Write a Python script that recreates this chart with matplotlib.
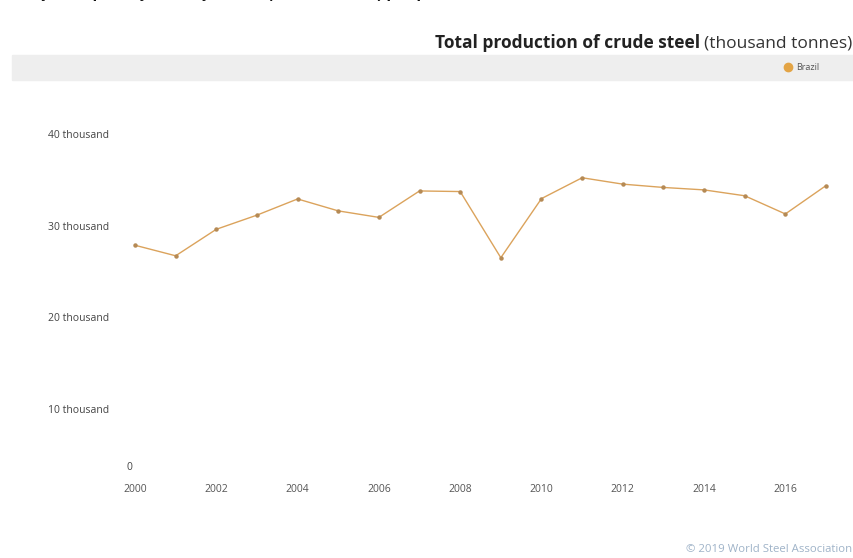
import matplotlib.pyplot as plt
from matplotlib.patches import Rectangle
from matplotlib.lines import Line2D

# 数据
years = list(range(2000, 2018))
brazil = [27865, 26717, 29604, 31147, 32909, 31610, 30901, 33782, 33716,
          26506, 32948, 35220, 34524, 34163, 33897, 33256, 31275, 34365]
x_ticks = list(range(2000, 2017, 2))
y_ticks = [10000, 20000, 30000, 40000]
y_labels = ["10 thousand", "20 thousand", "30 thousand", "40 thousand"]

plt.rcParams['font.family'] = ['Open Sans', 'DejaVu Sans']

fig = plt.figure(figsize=(8.54, 5.58), dpi=100)
W, H = 854, 558

# 被裁掉的标题 (只剩下半部分)
fig.text(-2 / W, 1 + 2 / H, "Evolução da produção de aço bruto (mil toneladas) por país",
         fontsize=11, fontweight='bold', ha='left', va='baseline', color='#111111')

# 副标题
t1 = fig.text(852 / W, 1 - 43 / H, "(thousand tonnes)", fontsize=12.5,
              ha='right', va='center', color='#333333')
fig.canvas.draw()
bb = t1.get_window_extent()
fig.text(bb.x0 / W - 4 / W, 1 - 43 / H, "Total production of crude steel", fontsize=12.5,
         fontweight='bold', ha='right', va='center', color='#222222')

# 图例条
fig.patches.append(Rectangle((12 / W, 1 - 80 / H), (W - 12) / W, 25 / H,
                             transform=fig.transFigure, color='#eeeeee', zorder=0))
fig.lines.append(Line2D([788 / W], [1 - 67 / H], marker='o', markersize=6,
                        color='#e3a445', transform=fig.transFigure))
fig.text(796 / W, 1 - 67 / H, "Brazil", fontsize=6.5, ha='left', va='center', color='#555555')

# 主图
ax = fig.add_axes([135 / W, 1 - 501 / H, (826 - 135) / W, (501 - 99) / H])
ax.plot(years, brazil, color='#dba35c', linewidth=1.0, marker='o', markersize=2.2,
        markerfacecolor='#b58a55', markeredgecolor='#b58a55', clip_on=False)
ax.set_xlim(2000, 2017)
ax.set_ylim(0, 43800)

ax.set_xticks(x_ticks)
ax.set_xticklabels([str(y) for y in x_ticks], fontsize=7.5, color='#555555')
ax.set_yticks(y_ticks)
ax.set_yticklabels(y_labels, fontsize=7.5, color='#444444', ha='left')
ax.tick_params(axis='y', length=0, pad=63)
ax.tick_params(axis='x', length=0, pad=-12)
for s in ax.spines.values():
    s.set_visible(False)

ax.annotate("0", xy=(years[0], 0), xytext=(-6, 34), textcoords='offset pixels',
            fontsize=7.5, color='#444444', ha='center', va='center', annotation_clip=False)

fig.text(852 / W, 1 - 550 / H, "© 2019 World Steel Association", fontsize=8.2,
         ha='right', va='center', color='#9fb3c8')

plt.savefig("out.png", dpi=100)
